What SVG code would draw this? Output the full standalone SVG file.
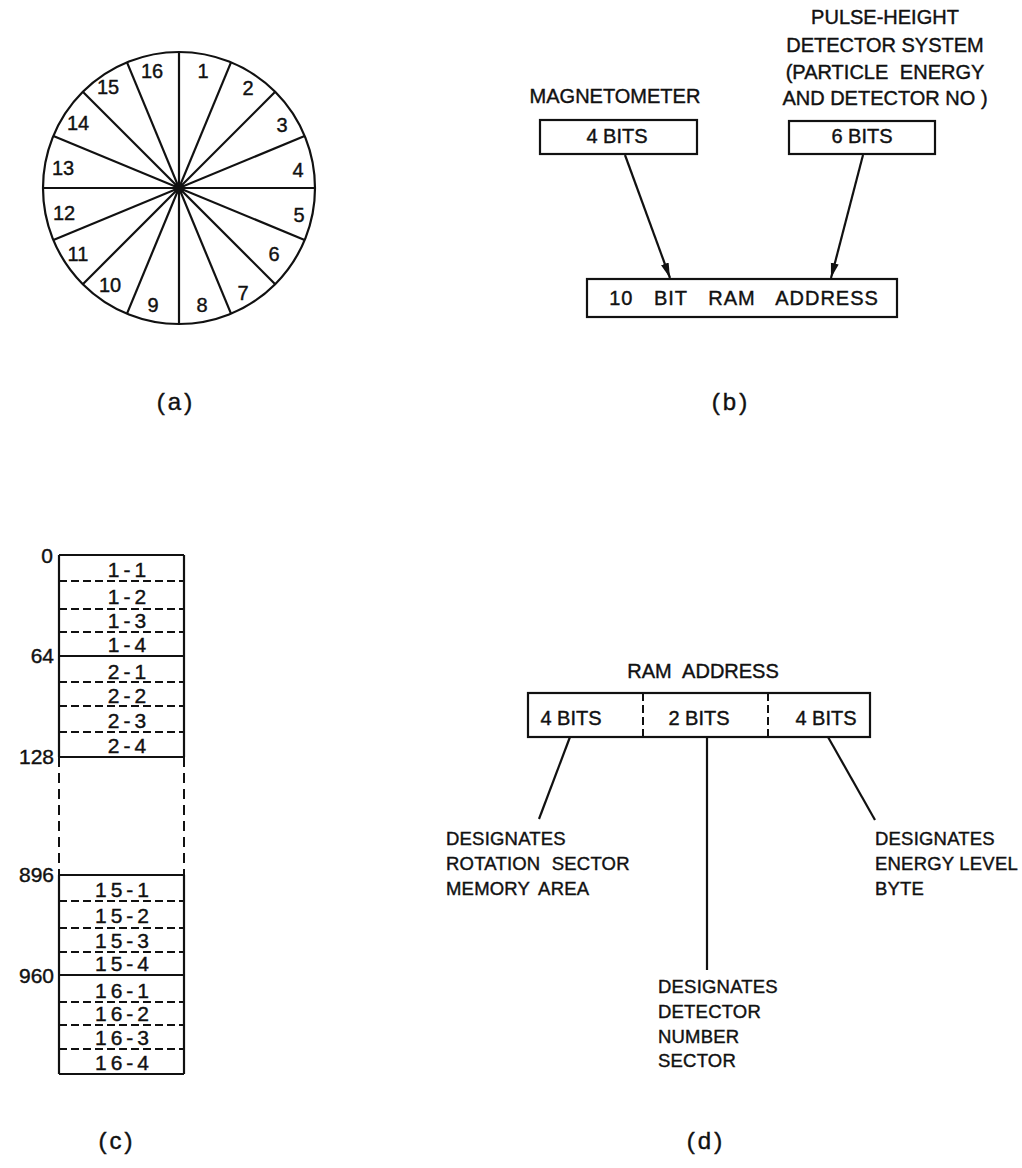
<svg xmlns="http://www.w3.org/2000/svg" width="1022" height="1168" viewBox="0 0 1022 1168">
<defs>
<style>
text{font-family:"Liberation Sans",Arial,sans-serif;fill:#111;stroke:#111;stroke-width:0.4;}
.ln{stroke:#111;stroke-width:2.2;fill:none;}
.bx{stroke:#111;stroke-width:2.2;fill:#fff;}
.ds{stroke:#111;stroke-width:2;fill:none;stroke-dasharray:8 4;}
.dv{stroke:#111;stroke-width:2;fill:none;stroke-dasharray:10 6;}
.sec{font-size:20px;text-anchor:middle;}
.lbl{font-size:20px;}
.dl{font-size:18.5px;letter-spacing:0.2px;}
.mid{text-anchor:middle;}
.cap{font-size:24px;text-anchor:middle;letter-spacing:3px;}
.cell{font-size:21px;text-anchor:middle;letter-spacing:4px;}
.addr{font-size:21px;text-anchor:end;}
</style>
<marker id="ah" markerUnits="userSpaceOnUse" markerWidth="16" markerHeight="10" refX="15" refY="5" orient="auto">
<path d="M0,1 L15,5 L0,9 Z" fill="#111"/>
</marker>
</defs>

<g id="fig-a">
<circle cx="179" cy="188" r="136" class="ln" stroke-width="2.5"/>
<g class="ln">
<line x1="179" y1="52" x2="179" y2="324"/>
<line x1="231" y1="62.4" x2="127" y2="313.6"/>
<line x1="275.2" y1="91.8" x2="82.8" y2="284.2"/>
<line x1="304.6" y1="136" x2="53.4" y2="240"/>
<line x1="315" y1="188" x2="43" y2="188"/>
<line x1="304.6" y1="240" x2="53.4" y2="136"/>
<line x1="275.2" y1="284.2" x2="82.8" y2="91.8"/>
<line x1="231" y1="313.6" x2="127" y2="62.4"/>
</g>
<circle cx="179" cy="188" r="5.5" fill="#111"/>
<text class="sec" x="203" y="78">1</text>
<text class="sec" x="248" y="95">2</text>
<text class="sec" x="282" y="132">3</text>
<text class="sec" x="298" y="177">4</text>
<text class="sec" x="299" y="222">5</text>
<text class="sec" x="274" y="261">6</text>
<text class="sec" x="243" y="300">7</text>
<text class="sec" x="202" y="312">8</text>
<text class="sec" x="153" y="312">9</text>
<text class="sec" x="110" y="292">10</text>
<text class="sec" x="78" y="261">11</text>
<text class="sec" x="64" y="220">12</text>
<text class="sec" x="63" y="175">13</text>
<text class="sec" x="78" y="130">14</text>
<text class="sec" x="108" y="94">15</text>
<text class="sec" x="152" y="78">16</text>
<text class="cap" x="176" y="410">(a)</text>
</g>

<g id="fig-b">
<g id="magnetometer">
<text class="lbl mid" x="615" y="103">MAGNETOMETER</text>
<rect class="bx" x="540" y="120" width="157" height="34"/>
<text class="lbl mid" x="617" y="143">4 BITS</text>
</g>
<g id="pulse-height">
<text class="lbl mid" x="885" y="24">PULSE-HEIGHT</text>
<text class="lbl mid" x="885" y="52">DETECTOR SYSTEM</text>
<text class="lbl mid" x="885" y="79" word-spacing="6">(PARTICLE ENERGY</text>
<text class="lbl mid" x="885" y="105">AND DETECTOR NO )</text>
<rect class="bx" x="789" y="121" width="146" height="33"/>
<text class="lbl mid" x="862" y="143">6 BITS</text>
</g>
<g id="ram-address-10">
<rect class="bx" x="587" y="279" width="310" height="38"/>
<text class="lbl mid" x="744" y="305" word-spacing="14" letter-spacing="1">10 BIT RAM ADDRESS</text>
</g>
<text class="cap" x="731" y="410">(b)</text>
</g>

<g id="connectors">
<line class="ln" x1="625" y1="155" x2="670" y2="278" marker-end="url(#ah)"/>
<line class="ln" x1="863" y1="155" x2="831" y2="278" marker-end="url(#ah)"/>
<line class="ln" x1="570" y1="737" x2="539" y2="819"/>
<line class="ln" x1="707" y1="737" x2="707" y2="970"/>
<line class="ln" x1="828" y1="737" x2="875" y2="820"/>
</g>

<g id="fig-c">
<g id="mem-map">
<line class="ln" x1="59" y1="555" x2="59" y2="757"/>
<line class="ln" x1="184" y1="555" x2="184" y2="757"/>
<line class="dv" x1="59" y1="757" x2="59" y2="875"/>
<line class="dv" x1="184" y1="757" x2="184" y2="875"/>
<line class="ln" x1="59" y1="875" x2="59" y2="1074"/>
<line class="ln" x1="184" y1="875" x2="184" y2="1074"/>
<line class="ln" x1="59" y1="555" x2="184" y2="555"/>
<line class="ds" x1="59" y1="581" x2="184" y2="581"/>
<line class="ds" x1="59" y1="609" x2="184" y2="609"/>
<line class="ds" x1="59" y1="632" x2="184" y2="632"/>
<line class="ln" x1="59" y1="656" x2="184" y2="656"/>
<line class="ds" x1="59" y1="682" x2="184" y2="682"/>
<line class="ds" x1="59" y1="706" x2="184" y2="706"/>
<line class="ds" x1="59" y1="732" x2="184" y2="732"/>
<line class="ln" x1="59" y1="757" x2="184" y2="757"/>
<line class="ln" x1="59" y1="875" x2="184" y2="875"/>
<line class="ds" x1="59" y1="901" x2="184" y2="901"/>
<line class="ds" x1="59" y1="928" x2="184" y2="928"/>
<line class="ds" x1="59" y1="952" x2="184" y2="952"/>
<line class="ln" x1="59" y1="975" x2="184" y2="975"/>
<line class="ds" x1="59" y1="1002" x2="184" y2="1002"/>
<line class="ds" x1="59" y1="1025" x2="184" y2="1025"/>
<line class="ds" x1="59" y1="1049" x2="184" y2="1049"/>
<line class="ln" x1="59" y1="1074" x2="184" y2="1074"/>
</g>
<text class="cell" x="129" y="577">1-1</text>
<text class="cell" x="129" y="604">1-2</text>
<text class="cell" x="129" y="628">1-3</text>
<text class="cell" x="129" y="652">1-4</text>
<text class="cell" x="129" y="679">2-1</text>
<text class="cell" x="129" y="703">2-2</text>
<text class="cell" x="129" y="728">2-3</text>
<text class="cell" x="129" y="753">2-4</text>
<text class="cell" x="124" y="897">15-1</text>
<text class="cell" x="124" y="923">15-2</text>
<text class="cell" x="124" y="948">15-3</text>
<text class="cell" x="124" y="971">15-4</text>
<text class="cell" x="124" y="998">16-1</text>
<text class="cell" x="124" y="1021">16-2</text>
<text class="cell" x="124" y="1045">16-3</text>
<text class="cell" x="124" y="1070">16-4</text>
<text class="addr" x="53" y="563">0</text>
<text class="addr" x="54" y="663">64</text>
<text class="addr" x="54" y="764">128</text>
<text class="addr" x="54" y="882">896</text>
<text class="addr" x="54" y="983">960</text>
<text class="cap" x="117" y="1149">(c)</text>
</g>

<g id="fig-d">
<text class="lbl mid" x="703" y="678" word-spacing="6">RAM ADDRESS</text>
<g id="ram-address-fields">
<rect class="bx" x="528" y="693" width="342" height="44"/>
<line class="ds" x1="643" y1="693" x2="643" y2="737" stroke-dasharray="5 3"/>
<line class="ds" x1="768" y1="693" x2="768" y2="737" stroke-dasharray="5 3"/>
<text class="lbl mid" x="571" y="725">4 BITS</text>
<text class="lbl mid" x="699" y="725">2 BITS</text>
<text class="lbl mid" x="826" y="725">4 BITS</text>
</g>
<g id="label-rotation">
<text class="dl" x="446" y="845">DESIGNATES</text>
<text class="dl" x="446" y="870" word-spacing="6">ROTATION SECTOR</text>
<text class="dl" x="446" y="895" word-spacing="4">MEMORY AREA</text>
</g>
<g id="label-detector">
<text class="dl" x="658" y="993">DESIGNATES</text>
<text class="dl" x="658" y="1018">DETECTOR</text>
<text class="dl" x="658" y="1043">NUMBER</text>
<text class="dl" x="658" y="1067">SECTOR</text>
</g>
<g id="label-energy">
<text class="dl" x="875" y="845">DESIGNATES</text>
<text class="dl" x="875" y="870">ENERGY LEVEL</text>
<text class="dl" x="875" y="895">BYTE</text>
</g>
<text class="cap" x="706" y="1149">(d)</text>
</g>
</svg>
